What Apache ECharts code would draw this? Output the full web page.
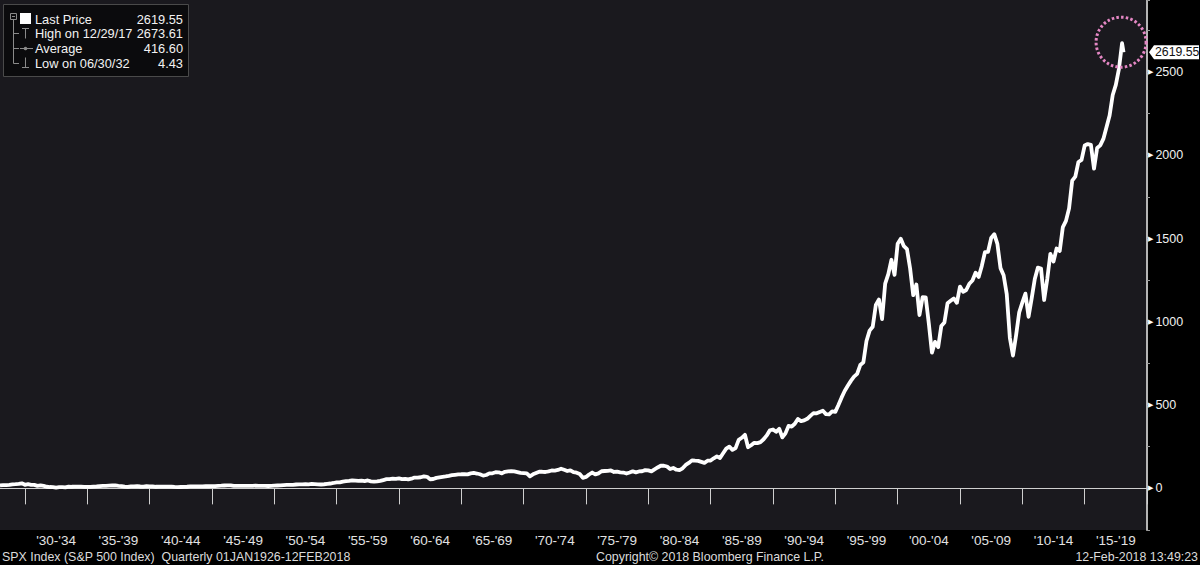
<!DOCTYPE html>
<html><head><meta charset="utf-8">
<script src="https://cdn.jsdelivr.net/npm/echarts@6/dist/echarts.min.js"></script>
<style>html,body{margin:0;padding:0;background:#000;}#c{width:1200px;height:565px;}</style>
</head><body><div id="c"></div>
<script>
// ---- data ----
const firstQuarterEnd = 1928.0; // quarter-end of 1927 Q4; later points every quarter
const quarterCloses = [
  17.66,
  19.28, 19.73, 21.41, 24.35,
  25.3, 27.6, 30.6, 21.45,
  25.14, 20.46, 20.99, 15.34,
  18.01, 14.8, 9.71, 8.12,
  7.31, 4.43, 7.39, 6.89,
  5.85, 10.91, 9.62, 10.1,
  10.74, 9.9, 9.1, 9.5,
  8.47, 10.23, 11.47, 13.43,
  15.03, 14.69, 16.12, 17.18,
  17.44, 15.22, 13.76, 10.55,
  8.5, 11.56, 12.59, 13.21,
  11.29, 11.0, 13.02, 12.49,
  12.15, 9.67, 10.73, 10.58,
  9.95, 10.25, 10.45, 8.69,
  8.04, 8.33, 8.88, 9.77,
  11.58, 12.36, 12.1, 11.67,
  12.04, 13.29, 12.87, 13.28,
  13.93, 15.09, 15.97, 17.36,
  17.53, 18.43, 14.95, 15.3,
  15.17, 15.13, 15.11, 15.3,
  14.97, 16.74, 15.49, 15.2,
  15.06, 14.16, 15.58, 16.76,
  17.29, 17.69, 19.45, 20.41,
  21.48, 20.96, 23.26, 23.77,
  24.37, 24.96, 24.54, 26.57,
  25.29, 24.14, 23.35, 24.81,
  26.94, 29.21, 32.31, 35.98,
  36.58, 41.03, 43.67, 45.48,
  48.48, 46.97, 45.35, 46.67,
  44.11, 47.37, 42.42, 39.99,
  42.1, 45.24, 50.06, 55.21,
  55.44, 58.47, 56.88, 59.89,
  55.34, 56.92, 53.52, 58.11,
  65.06, 64.64, 66.73, 71.55,
  69.55, 54.75, 56.27, 63.1,
  66.57, 69.37, 71.7, 75.02,
  78.98, 81.69, 84.18, 84.75,
  86.16, 84.12, 89.96, 92.43,
  89.23, 84.74, 76.56, 80.33,
  90.2, 90.64, 96.71, 96.47,
  90.2, 99.58, 102.67, 103.86,
  101.51, 97.71, 93.12, 92.06,
  89.63, 72.72, 84.21, 92.15,
  100.31, 99.7, 98.34, 102.09,
  107.2, 107.14, 110.55, 118.05,
  111.52, 104.26, 108.43, 97.55,
  93.98, 86.0, 63.54, 68.56,
  83.36, 95.19, 83.87, 90.19,
  102.77, 104.28, 105.24, 107.46,
  98.42, 100.48, 96.53, 95.1,
  89.21, 95.53, 102.54, 96.11,
  101.59, 102.91, 109.32, 107.94,
  102.09, 114.24, 125.46, 135.76,
  136.0, 131.21, 116.18, 122.55,
  111.96, 109.61, 120.42, 140.64,
  152.96, 168.11, 166.07, 164.93,
  159.18, 153.18, 166.1, 167.24,
  180.66, 191.85, 182.08, 211.28,
  238.9, 250.84, 231.32, 242.17,
  291.7, 304.0, 321.83, 247.08,
  258.89, 273.5, 271.91, 277.72,
  294.87, 317.98, 349.15, 353.4,
  339.94, 358.02, 306.05, 330.22,
  375.22, 371.16, 387.86, 417.09,
  403.69, 408.14, 417.8, 435.71,
  451.67, 450.53, 458.93, 466.45,
  445.77, 444.27, 462.69, 459.27,
  500.71, 544.75, 584.41, 615.93,
  645.5, 670.63, 687.33, 740.74,
  757.12, 885.14, 947.28, 970.43,
  1101.75, 1133.84, 1017.01, 1229.23,
  1286.37, 1372.71, 1282.71, 1469.25,
  1498.58, 1454.6, 1436.51, 1320.28,
  1160.33, 1224.42, 1040.94, 1148.08,
  1147.39, 989.82, 815.28, 879.82,
  848.18, 974.5, 995.97, 1111.92,
  1126.21, 1140.84, 1114.58, 1211.92,
  1180.59, 1191.33, 1228.81, 1248.29,
  1294.83, 1270.2, 1335.85, 1418.3,
  1420.86, 1503.35, 1526.75, 1468.36,
  1322.7, 1280.0, 1166.36, 903.25,
  797.87, 919.32, 1057.08, 1115.1,
  1169.43, 1030.71, 1141.2, 1257.64,
  1325.83, 1320.64, 1131.42, 1257.6,
  1408.47, 1362.16, 1440.67, 1426.19,
  1569.19, 1606.28, 1681.55, 1848.36,
  1872.34, 1960.23, 1972.29, 2058.9,
  2067.89, 2063.11, 1920.03, 2043.94,
  2059.74, 2098.86, 2168.27, 2238.83,
  2362.72, 2423.41, 2519.36, 2673.61
];
const lastDate = 2018.117;   // 12 Feb 2018
const lastPrice = 2619.55;
const highDate = 2018.0;     // 29 Dec 2017
const highPrice = 2673.61;

const xBandStarts = [1930,1935,1940,1945,1950,1955,1960,1965,1970,1975,1980,1985,1990,1995,2000,2005,2010,2015,2020];
const xBandLabels = ["'30-'34","'35-'39","'40-'44","'45-'49","'50-'54","'55-'59","'60-'64","'65-'69","'70-'74","'75-'79","'80-'84","'85-'89","'90-'94","'95-'99","'00-'04","'05-'09","'10-'14","'15-'19"];
const yLabelValues = [0, 500, 1000, 1500, 2000, 2500];

const legendRows = [
  ['Last Price', '2619.55'],
  ['High on 12/29/17', '2673.61'],
  ['Average', '416.60'],
  ['Low on 06/30/32', '4.43']
];
const footerLeft = 'SPX Index (S&P 500 Index)  Quarterly 01JAN1926-12FEB2018';
const footerMid = 'Copyright\u00A9 2018 Bloomberg Finance L.P.';
const footerRight = '12-Feb-2018 13:49:23';

// ---- build ----
const seriesData = quarterCloses.map((v, i) => [firstQuarterEnd + i * 0.25, v]);
seriesData.push([lastDate, lastPrice]);
const bandCenters = xBandStarts.slice(0, -1).map(s => s + 2.5);

const FONT = '"Liberation Sans", Arial, sans-serif';
const chart = echarts.init(document.getElementById('c'), null, {renderer: 'svg'});

chart.setOption({
  backgroundColor: '#000',
  animation: false,
  grid: {left: 0, right: 53, top: 0, bottom: 35, show: true, backgroundColor: '#1a191e', borderWidth: 0, containLabel: false},
  xAxis: {
    type: 'value', min: 1928, max: 2020,
    splitLine: {show: false},
    axisLine: {show: true, lineStyle: {color: '#cfcfcf', width: 1}},
    axisTick: {show: true, customValues: xBandStarts, length: 16, lineStyle: {color: '#cfcfcf', width: 1}},
    axisLabel: {
      show: true, customValues: bandCenters, margin: 3, color: '#e2e2e2', fontSize: 13.5, fontFamily: FONT,
      formatter: v => { const i = bandCenters.findIndex(c => Math.abs(c - v) < 0.01); return i >= 0 ? xBandLabels[i] : ''; }
    }
  },
  yAxis: {
    type: 'value', position: 'right', min: -250, max: 2933, interval: 250,
    splitLine: {show: false},
    axisLine: {show: true, lineStyle: {color: '#b5b5b5', width: 2}},
    axisTick: {show: true, length: 3, lineStyle: {color: '#9a9a9a', width: 1}},
    axisLabel: {
      show: true, margin: 0, fontFamily: FONT,
      formatter: v => yLabelValues.indexOf(v) >= 0 ? '{t|\u25B6}{v|' + v + '}' : '',
      rich: {
        t: {fontSize: 7, color: '#ffffff', padding: [0, 2, 0, 1], fontFamily: '"DejaVu Sans", sans-serif'},
        v: {fontSize: 12.5, color: '#f0f0f0', fontFamily: FONT}
      }
    }
  },
  series: [{
    type: 'line', data: seriesData, showSymbol: false, symbol: 'none',
    lineStyle: {color: '#ffffff', width: 3.8, join: 'round'},
    clip: true, z: 3
  }]
});

// overlay graphics (positions via library scales)
const hp = chart.convertToPixel({gridIndex: 0}, [highDate, highPrice]);
const lp = chart.convertToPixel({gridIndex: 0}, [lastDate, lastPrice]);
const axisX = chart.convertToPixel({gridIndex: 0}, [2020, 0])[0];

const g = [];
// legend box
g.push({type: 'rect', shape: {x: 3.5, y: 4.5, width: 185, height: 72}, style: {fill: '#0b0b0d', stroke: '#4a4a4a', lineWidth: 1}, z: 10});
const rowY = [19, 33.5, 48.5, 63];
const grey = '#8a8a8a';
// tree glyphs
g.push({type: 'rect', shape: {x: 10.5, y: 13.5, width: 6, height: 6}, style: {fill: 'none', stroke: grey, lineWidth: 1}, z: 11});
g.push({type: 'line', shape: {x1: 12, y1: 16.5, x2: 15, y2: 16.5}, style: {stroke: grey, lineWidth: 1}, z: 11});
g.push({type: 'line', shape: {x1: 13.5, y1: 20, x2: 13.5, y2: 63.5}, style: {stroke: grey, lineWidth: 1}, z: 11});
[33.5, 48.5, 63.5].forEach(y => g.push({type: 'line', shape: {x1: 13.5, y1: y, x2: 19, y2: y}, style: {stroke: grey, lineWidth: 1}, z: 11}));
// high glyph (T)
g.push({type: 'line', shape: {x1: 22, y1: 28.5, x2: 29, y2: 28.5}, style: {stroke: grey, lineWidth: 1}, z: 11});
g.push({type: 'line', shape: {x1: 25.5, y1: 28.5, x2: 25.5, y2: 38.5}, style: {stroke: grey, lineWidth: 1}, z: 11});
// average glyph (-+-)
g.push({type: 'line', shape: {x1: 20, y1: 48.5, x2: 33, y2: 48.5}, style: {stroke: grey, lineWidth: 1}, z: 11});
g.push({type: 'circle', shape: {cx: 25.5, cy: 48.5, r: 1.8}, style: {fill: grey}, z: 11});
// low glyph (inverted T)
g.push({type: 'line', shape: {x1: 22, y1: 67.5, x2: 29, y2: 67.5}, style: {stroke: grey, lineWidth: 1}, z: 11});
g.push({type: 'line', shape: {x1: 25.5, y1: 57.5, x2: 25.5, y2: 67.5}, style: {stroke: grey, lineWidth: 1}, z: 11});
// white square for last price
g.push({type: 'rect', shape: {x: 20, y: 13, width: 11, height: 11}, style: {fill: '#ffffff'}, z: 11});
legendRows.forEach((r, i) => {
  g.push({type: 'text', x: 35, y: rowY[i], style: {text: r[0], fill: '#f2f2f2', font: '12.8px ' + FONT, textVerticalAlign: 'middle', textAlign: 'left'}, z: 11});
  g.push({type: 'text', x: 183, y: rowY[i], style: {text: r[1], fill: '#f2f2f2', font: '12.8px ' + FONT, textVerticalAlign: 'middle', textAlign: 'right'}, z: 11});
});
// footer
g.push({type: 'text', x: 2, y: 557, style: {text: footerLeft, fill: '#dcdcdc', font: '12.4px ' + FONT, textVerticalAlign: 'middle', textAlign: 'left'}, z: 11});
g.push({type: 'text', x: 596, y: 557, style: {text: footerMid, fill: '#dcdcdc', font: '12.4px ' + FONT, textVerticalAlign: 'middle', textAlign: 'left'}, z: 11});
g.push({type: 'text', x: 1198, y: 557, style: {text: footerRight, fill: '#dcdcdc', font: '12.4px ' + FONT, textVerticalAlign: 'middle', textAlign: 'right'}, z: 11});
// pink dotted circle around the high
g.push({type: 'circle', shape: {cx: hp[0] - 1, cy: hp[1] - 1, r: 25}, style: {fill: 'none', stroke: '#e487c4', lineWidth: 3, lineDash: [2.5, 2.2]}, z: 12});
// last price tag
const ty = lp[1];
g.push({type: 'polygon', shape: {points: [[axisX + 2, ty], [axisX + 7, ty - 7], [1199, ty - 7], [1199, ty + 7], [axisX + 7, ty + 7]]}, style: {fill: '#ffffff'}, z: 12});
g.push({type: 'text', x: axisX + 8, y: ty, style: {text: '2619.55', fill: '#111111', font: '12.3px ' + FONT, textVerticalAlign: 'middle', textAlign: 'left'}, z: 13});

chart.setOption({graphic: {elements: g}});
</script>
</body></html>
